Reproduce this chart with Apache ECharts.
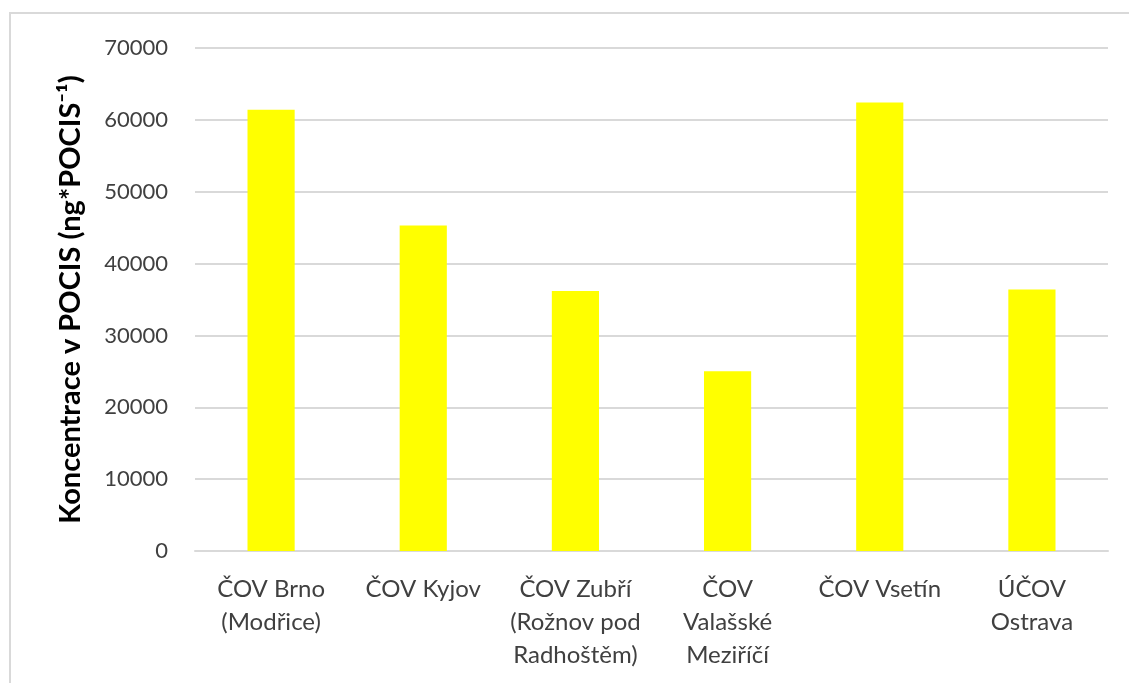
<!DOCTYPE html>
<html>
<head>
<meta charset="utf-8">
<script src="https://cdn.jsdelivr.net/npm/echarts@6/dist/echarts.min.js"></script>
<style>
  html, body { margin: 0; padding: 0; background: #ffffff; }
  #frame {
    position: absolute; left: 9px; top: 12px; right: 0; bottom: 0;
    border-left: 2px solid #d9d9d9; border-top: 2px solid #d9d9d9;
  }
  #chart { position: absolute; left: 0; top: 0; width: 1129px; height: 683px; }
</style>
</head>
<body>
<div id="frame"></div>
<div id="chart"></div>
<script>
// Wastewater treatment plants (ČOV) and concentration measured in POCIS samplers
const categories = [
  'ČOV Brno\n(Modřice)',
  'ČOV Kyjov',
  'ČOV Zubří\n(Rožnov pod\nRadhoštěm)',
  'ČOV\nValašské\nMeziříčí',
  'ČOV Vsetín',
  'ÚČOV\nOstrava'
];
const concentrations = [61400, 45300, 36200, 25000, 62400, 36400];
const yTicks = { min: 0, max: 70000, interval: 10000 };
const yTitle = 'Koncentrace v POCIS (ng*POCIS⁻¹)';

const fontFamily = 'Lato, "Open Sans", sans-serif';
const chart = echarts.init(document.getElementById('chart'), null, { renderer: 'canvas' });

chart.setOption({
  backgroundColor: 'transparent',
  animation: false,
  grid: { left: 195, right: 21, top: 48, bottom: 132, containLabel: false },
  xAxis: {
    type: 'category',
    data: categories,
    axisLine: { show: true, lineStyle: { color: '#d9d9d9', width: 2 } },
    axisTick: { show: false },
    axisLabel: {
      interval: 0,
      color: '#404040',
      fontFamily: fontFamily,
      fontSize: 24,
      lineHeight: 33,
      margin: 22,
      align: 'center'
    }
  },
  yAxis: {
    type: 'value',
    min: yTicks.min,
    max: yTicks.max,
    interval: yTicks.interval,
    name: yTitle,
    nameLocation: 'middle',
    nameRotate: 90,
    nameGap: 110,
    nameTextStyle: {
      color: '#000000',
      fontFamily: fontFamily,
      fontWeight: 'bold',
      fontSize: 29
    },
    axisLine: { show: false },
    axisTick: { show: false },
    splitLine: { lineStyle: { color: '#d9d9d9', width: 2 } },
    axisLabel: {
      color: '#404040',
      fontFamily: fontFamily,
      fontSize: 22,
      margin: 27,
      formatter: function (v) { return String(v); }
    }
  },
  series: [{
    type: 'bar',
    data: concentrations,
    barWidth: '31%',
    itemStyle: { color: '#ffff00' }
  }]
});
</script>
</body>
</html>
